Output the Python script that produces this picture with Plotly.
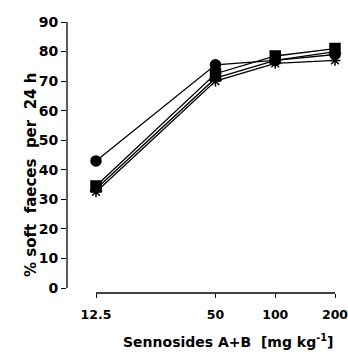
import math
import plotly.graph_objects as go

doses = [12.5, 50, 100, 200]
dose_labels = ["12.5", "50", "100", "200"]
series_circle = [43, 75.5, 77, 79]
series_square = [34.5, 72.5, 78.5, 81]
series_triangle = [33.5, 71, 77, 80]
series_star = [32.5, 70, 76, 77]
y_ticks = [0, 10, 20, 30, 40, 50, 60, 70, 80, 90]

W, H = 348, 352
L, R, T, B = 67, 10, 18, 59
pxdec = 198.5
xlo = math.log10(12.5) - 29 / pxdec
xhi = math.log10(200) + 3 / pxdec
pxu = (288 - 22) / 90.0
ylo = -5 / pxu
yhi = 90 + 4 / pxu

FONT = "DejaVu Sans"
fig = go.Figure()
for vals, sym in [(series_circle, "circle"), (series_square, "square"),
                  (series_triangle, "triangle-up"), (series_star, "asterisk")]:
    fig.add_trace(go.Scatter(
        x=doses, y=vals, mode="lines+markers",
        line=dict(color="black", width=1.3),
        marker=dict(symbol=sym, size=10 if sym != "asterisk" else 9, color="black",
                    line=dict(color="black", width=1.5)),
        showlegend=False, cliponaxis=False))

fig.add_shape(type="line", xref="paper", yref="y", x0=0, x1=0, y0=0, y1=90,
              line=dict(color="black", width=1.3))
fig.add_shape(type="line", xref="x", yref="paper", x0=12.5, x1=200, y0=0, y1=0,
              line=dict(color="black", width=1.3))

fig.add_annotation(text="% soft  faeces  per  24 h", textangle=-90, xref="paper", yref="paper",
                   x=-(67 - 31) / (W - L - R), y=(293 - 175) / (293 - 18),
                   xanchor="center", yanchor="middle", showarrow=False,
                   font=dict(family=FONT, size=15, color="black", weight="bold"))
fig.add_annotation(text="Sennosides A+B  [mg kg<sup>-1</sup>]", xref="paper", yref="paper",
                   x=(228 - L) / (W - L - R), y=-(341 - 293) / (293 - 18),
                   xanchor="center", yanchor="middle", showarrow=False,
                   font=dict(family=FONT, size=14, color="black", weight="bold"))

fig.update_layout(
    width=W, height=H, margin=dict(l=L, r=R, t=T, b=B, autoexpand=False),
    paper_bgcolor="white", plot_bgcolor="white",
    xaxis=dict(type="log", range=[xlo, xhi], tickvals=doses, ticktext=dose_labels,
               showgrid=False, zeroline=False, showline=False, ticks="outside",
               ticklen=4, tickwidth=1.2, tickcolor="black", ticklabelstandoff=6,
               ticklabeloverflow="allow", automargin=False,
               tickfont=dict(family=FONT, size=12.5, color="black", weight="bold")),
    yaxis=dict(range=[ylo, yhi], tickvals=y_ticks, showgrid=False, zeroline=False,
               showline=False, ticks="outside", ticklen=5, tickwidth=1.2, tickcolor="black",
               automargin=False,
               tickfont=dict(family=FONT, size=14, color="black", weight="bold")),
)
fig.write_html("out.html", config={"displayModeBar": False},
               post_script="document.body.style.margin='0';document.body.style.overflow='hidden';")
